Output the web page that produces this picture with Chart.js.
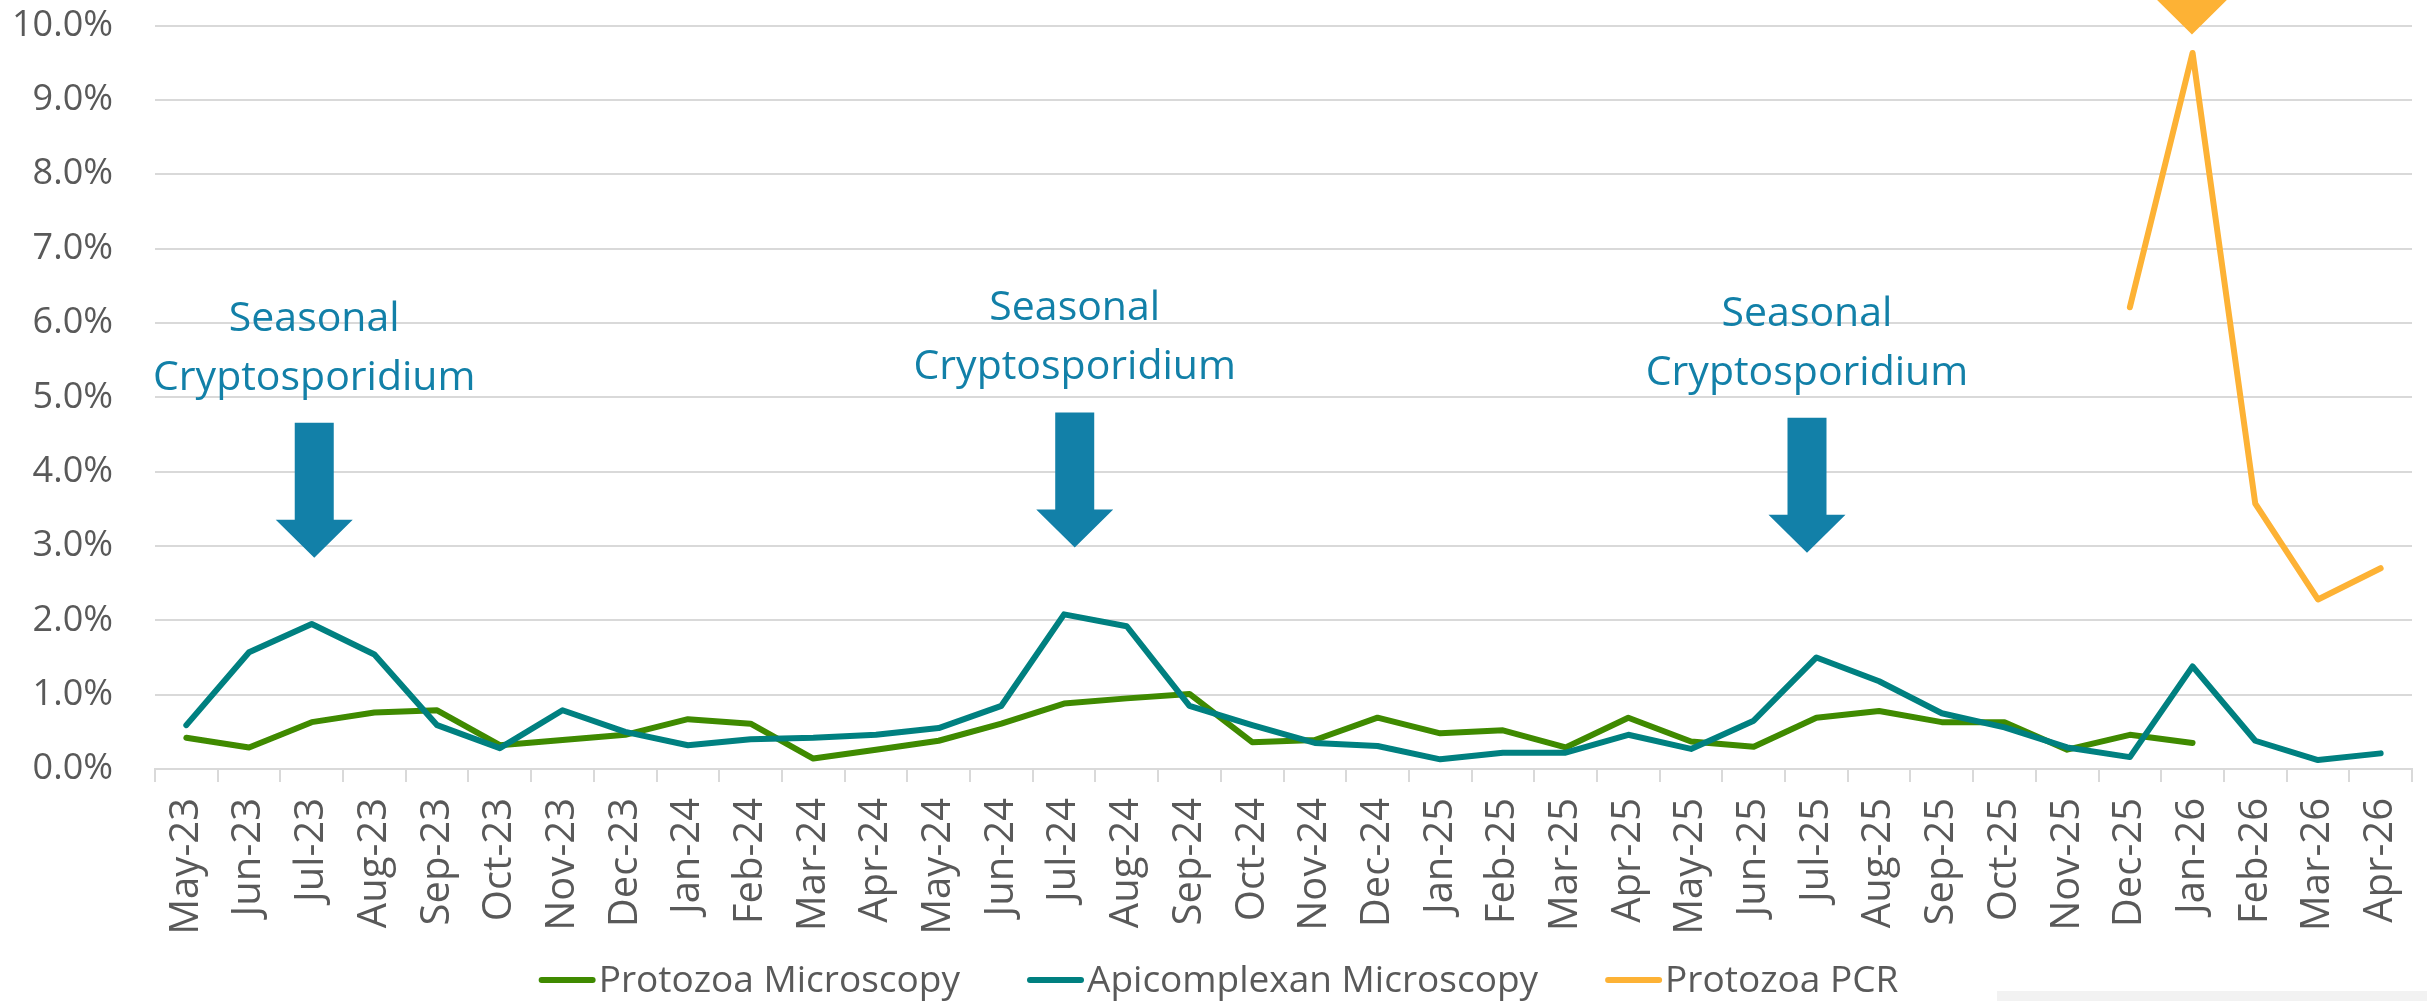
<!DOCTYPE html>
<html>
<head>
<meta charset="utf-8">
<script src="https://cdn.jsdelivr.net/npm/chart.js@4.4.1/dist/chart.umd.min.js"></script>
<style>
  html, body { margin: 0; padding: 0; background: #ffffff; }
  #wrap { width: 2427px; height: 1001px; position: relative; }
</style>
</head>
<body>
<div id="wrap"><canvas id="c" width="2427" height="1001"></canvas></div>
<script>
// ---------------- DATA ----------------
const months = [
  'May-23','Jun-23','Jul-23','Aug-23','Sep-23','Oct-23','Nov-23','Dec-23',
  'Jan-24','Feb-24','Mar-24','Apr-24','May-24','Jun-24','Jul-24','Aug-24','Sep-24','Oct-24','Nov-24','Dec-24',
  'Jan-25','Feb-25','Mar-25','Apr-25','May-25','Jun-25','Jul-25','Aug-25','Sep-25','Oct-25','Nov-25','Dec-25',
  'Jan-26','Feb-26','Mar-26','Apr-26'
];

// values in percent
const protozoaMicroscopy = [
  0.42, 0.29, 0.63, 0.76, 0.79, 0.32, 0.39, 0.46,
  0.67, 0.61, 0.14, 0.26, 0.38, 0.61, 0.88, 0.95, 1.01, 0.36, 0.39, 0.69,
  0.48, 0.52, 0.29, 0.69, 0.37, 0.30, 0.69, 0.78, 0.63, 0.63, 0.26, 0.46,
  0.35, null, null, null
];

const apicomplexanMicroscopy = [
  0.59, 1.57, 1.95, 1.54, 0.59, 0.28, 0.79, 0.50,
  0.32, 0.40, 0.42, 0.46, 0.55, 0.85, 2.08, 1.92, 0.85, 0.59, 0.35, 0.31,
  0.13, 0.22, 0.22, 0.46, 0.27, 0.65, 1.50, 1.18, 0.75, 0.56, 0.29, 0.16,
  1.38, 0.38, 0.12, 0.21
];

const protozoaPCR = [
  null, null, null, null, null, null, null, null,
  null, null, null, null, null, null, null, null, null, null, null, null,
  null, null, null, null, null, null, null, null, null, null, null, 6.21,
  9.63, 3.57, 2.28, 2.70
];

const seriesNames = ['Protozoa Microscopy', 'Apicomplexan Microscopy', 'Protozoa PCR'];
const yTickValues = [0, 1, 2, 3, 4, 5, 6, 7, 8, 9, 10];

// annotation anchors: category position (fractional index) and arrow tip value (%)
const seasonalNotes = [
  { at: 2.04,  tip: 2.84 },
  { at: 14.17, tip: 2.98 },
  { at: 25.85, tip: 2.91 }
];
const pcrMarker = { at: 31.99, tip: 9.88 };

// ---------------- STYLE ----------------
const GREEN = '#3f8a00';
const TEAL = '#008080';
const ORANGE = '#fdb235';
const NOTE = '#1280a8';
const GRID = '#d9d9d9';
const TEXT = '#595959';
const FONT = '"Open Sans", "Noto Sans", sans-serif';

function drawArrow(ctx, cx, tipY, color) {
  const shaftW = 39, headW = 77, headH = 38, shaftH = 135;
  ctx.save();
  ctx.beginPath();
  ctx.moveTo(cx - shaftW / 2, tipY - shaftH);
  ctx.lineTo(cx + shaftW / 2, tipY - shaftH);
  ctx.lineTo(cx + shaftW / 2, tipY - headH);
  ctx.lineTo(cx + headW / 2, tipY - headH);
  ctx.lineTo(cx, tipY);
  ctx.lineTo(cx - headW / 2, tipY - headH);
  ctx.lineTo(cx - shaftW / 2, tipY - headH);
  ctx.closePath();
  ctx.fillStyle = color;
  ctx.fill();
  ctx.restore();
}

const notesPlugin = {
  id: 'notes',
  afterDraw(chart) {
    const ctx = chart.ctx;
    const xs = chart.scales.x, ys = chart.scales.y;
    seasonalNotes.forEach(n => {
      const cx = xs.getPixelForValue(n.at);
      const tipY = ys.getPixelForValue(n.tip);
      drawArrow(ctx, cx, tipY, NOTE);
      ctx.save();
      ctx.font = '41px ' + FONT;
      ctx.fillStyle = NOTE;
      ctx.textAlign = 'center';
      ctx.textBaseline = 'alphabetic';
      ctx.fillText('Seasonal', cx, tipY - 227);
      ctx.fillText('Cryptosporidium', cx, tipY - 168);
      ctx.restore();
    });
    const px = xs.getPixelForValue(pcrMarker.at);
    const py = ys.getPixelForValue(pcrMarker.tip);
    drawArrow(ctx, px, py, ORANGE);

    // faint strip bottom-right
    ctx.save();
    ctx.fillStyle = '#f2f2f2';
    ctx.fillRect(1997, 991, chart.width - 1997, chart.height - 991);
    ctx.restore();

    // legend
    ctx.save();
    ctx.font = '37px ' + FONT;
    const items = chart.data.datasets.map(d => ({
      label: d.label, color: d.borderColor, w: ctx.measureText(d.label).width
    }));
    const sw = 57, gap = 3, sep = 67;
    let total = 0;
    items.forEach((it, i) => { total += sw + gap + it.w + (i ? sep : 0); });
    let x = chart.width / 2 + 5 - total / 2;
    const ly = 980;
    items.forEach(it => {
      ctx.strokeStyle = it.color;
      ctx.lineWidth = 6;
      ctx.lineCap = 'round';
      ctx.beginPath();
      ctx.moveTo(x + 3, ly);
      ctx.lineTo(x + sw - 3, ly);
      ctx.stroke();
      ctx.fillStyle = TEXT;
      ctx.textAlign = 'left';
      ctx.textBaseline = 'alphabetic';
      ctx.fillText(it.label, x + sw + gap, ly + 12);
      x += sw + gap + it.w + sep;
    });
    ctx.restore();
  }
};

const lineStyle = {
  borderWidth: 6,
  pointRadius: 0,
  pointHoverRadius: 0,
  tension: 0,
  spanGaps: false,
  borderCapStyle: 'round',
  borderJoinStyle: 'round',
  fill: false
};

new Chart(document.getElementById('c'), {
  type: 'line',
  data: {
    labels: months,
    datasets: [
      Object.assign({ label: seriesNames[0], data: protozoaMicroscopy, borderColor: GREEN, backgroundColor: GREEN, order: 1 }, lineStyle),
      Object.assign({ label: seriesNames[1], data: apicomplexanMicroscopy, borderColor: TEAL, backgroundColor: TEAL, order: 0 }, lineStyle),
      Object.assign({ label: seriesNames[2], data: protozoaPCR, borderColor: ORANGE, backgroundColor: ORANGE, order: 2 }, lineStyle)
    ]
  },
  options: {
    responsive: false,
    animation: false,
    events: [],
    layout: { padding: { top: 25.5, right: 15, bottom: 61, left: 0 } },
    plugins: {
      legend: { display: false },
      tooltip: { enabled: false }
    },
    scales: {
      x: {
        type: 'category',
        offset: true,
        grid: {
          display: true,
          offset: true,
          drawOnChartArea: false,
          drawTicks: true,
          tickLength: 13,
          color: GRID,
          lineWidth: 2
        },
        border: { display: true, color: GRID, width: 2 },
        ticks: {
          autoSkip: false,
          maxRotation: 90,
          minRotation: 90,
          padding: 16,
          color: TEXT,
          font: { family: FONT, size: 40 }
        },
        afterFit(scale) {
          scale.height = 171;
          scale.paddingLeft = 0; scale.paddingRight = 0;
          scale.paddingTop = 0; scale.paddingBottom = 0;
        }
      },
      y: {
        min: 0,
        max: 10,
        afterBuildTicks(scale) { scale.ticks = yTickValues.map(v => ({ value: v })); },
        grid: { color: GRID, lineWidth: 2, drawTicks: false },
        border: { display: false },
        ticks: {
          padding: 42,
          color: TEXT,
          font: { family: FONT, size: 36 },
          callback: v => Number(v).toFixed(1) + '%'
        },
        afterFit(scale) {
          scale.width = 155;
          scale.paddingTop = 0; scale.paddingBottom = 0;
          scale.paddingLeft = 0; scale.paddingRight = 0;
        }
      }
    }
  },
  plugins: [notesPlugin]
});
</script>
</body>
</html>
